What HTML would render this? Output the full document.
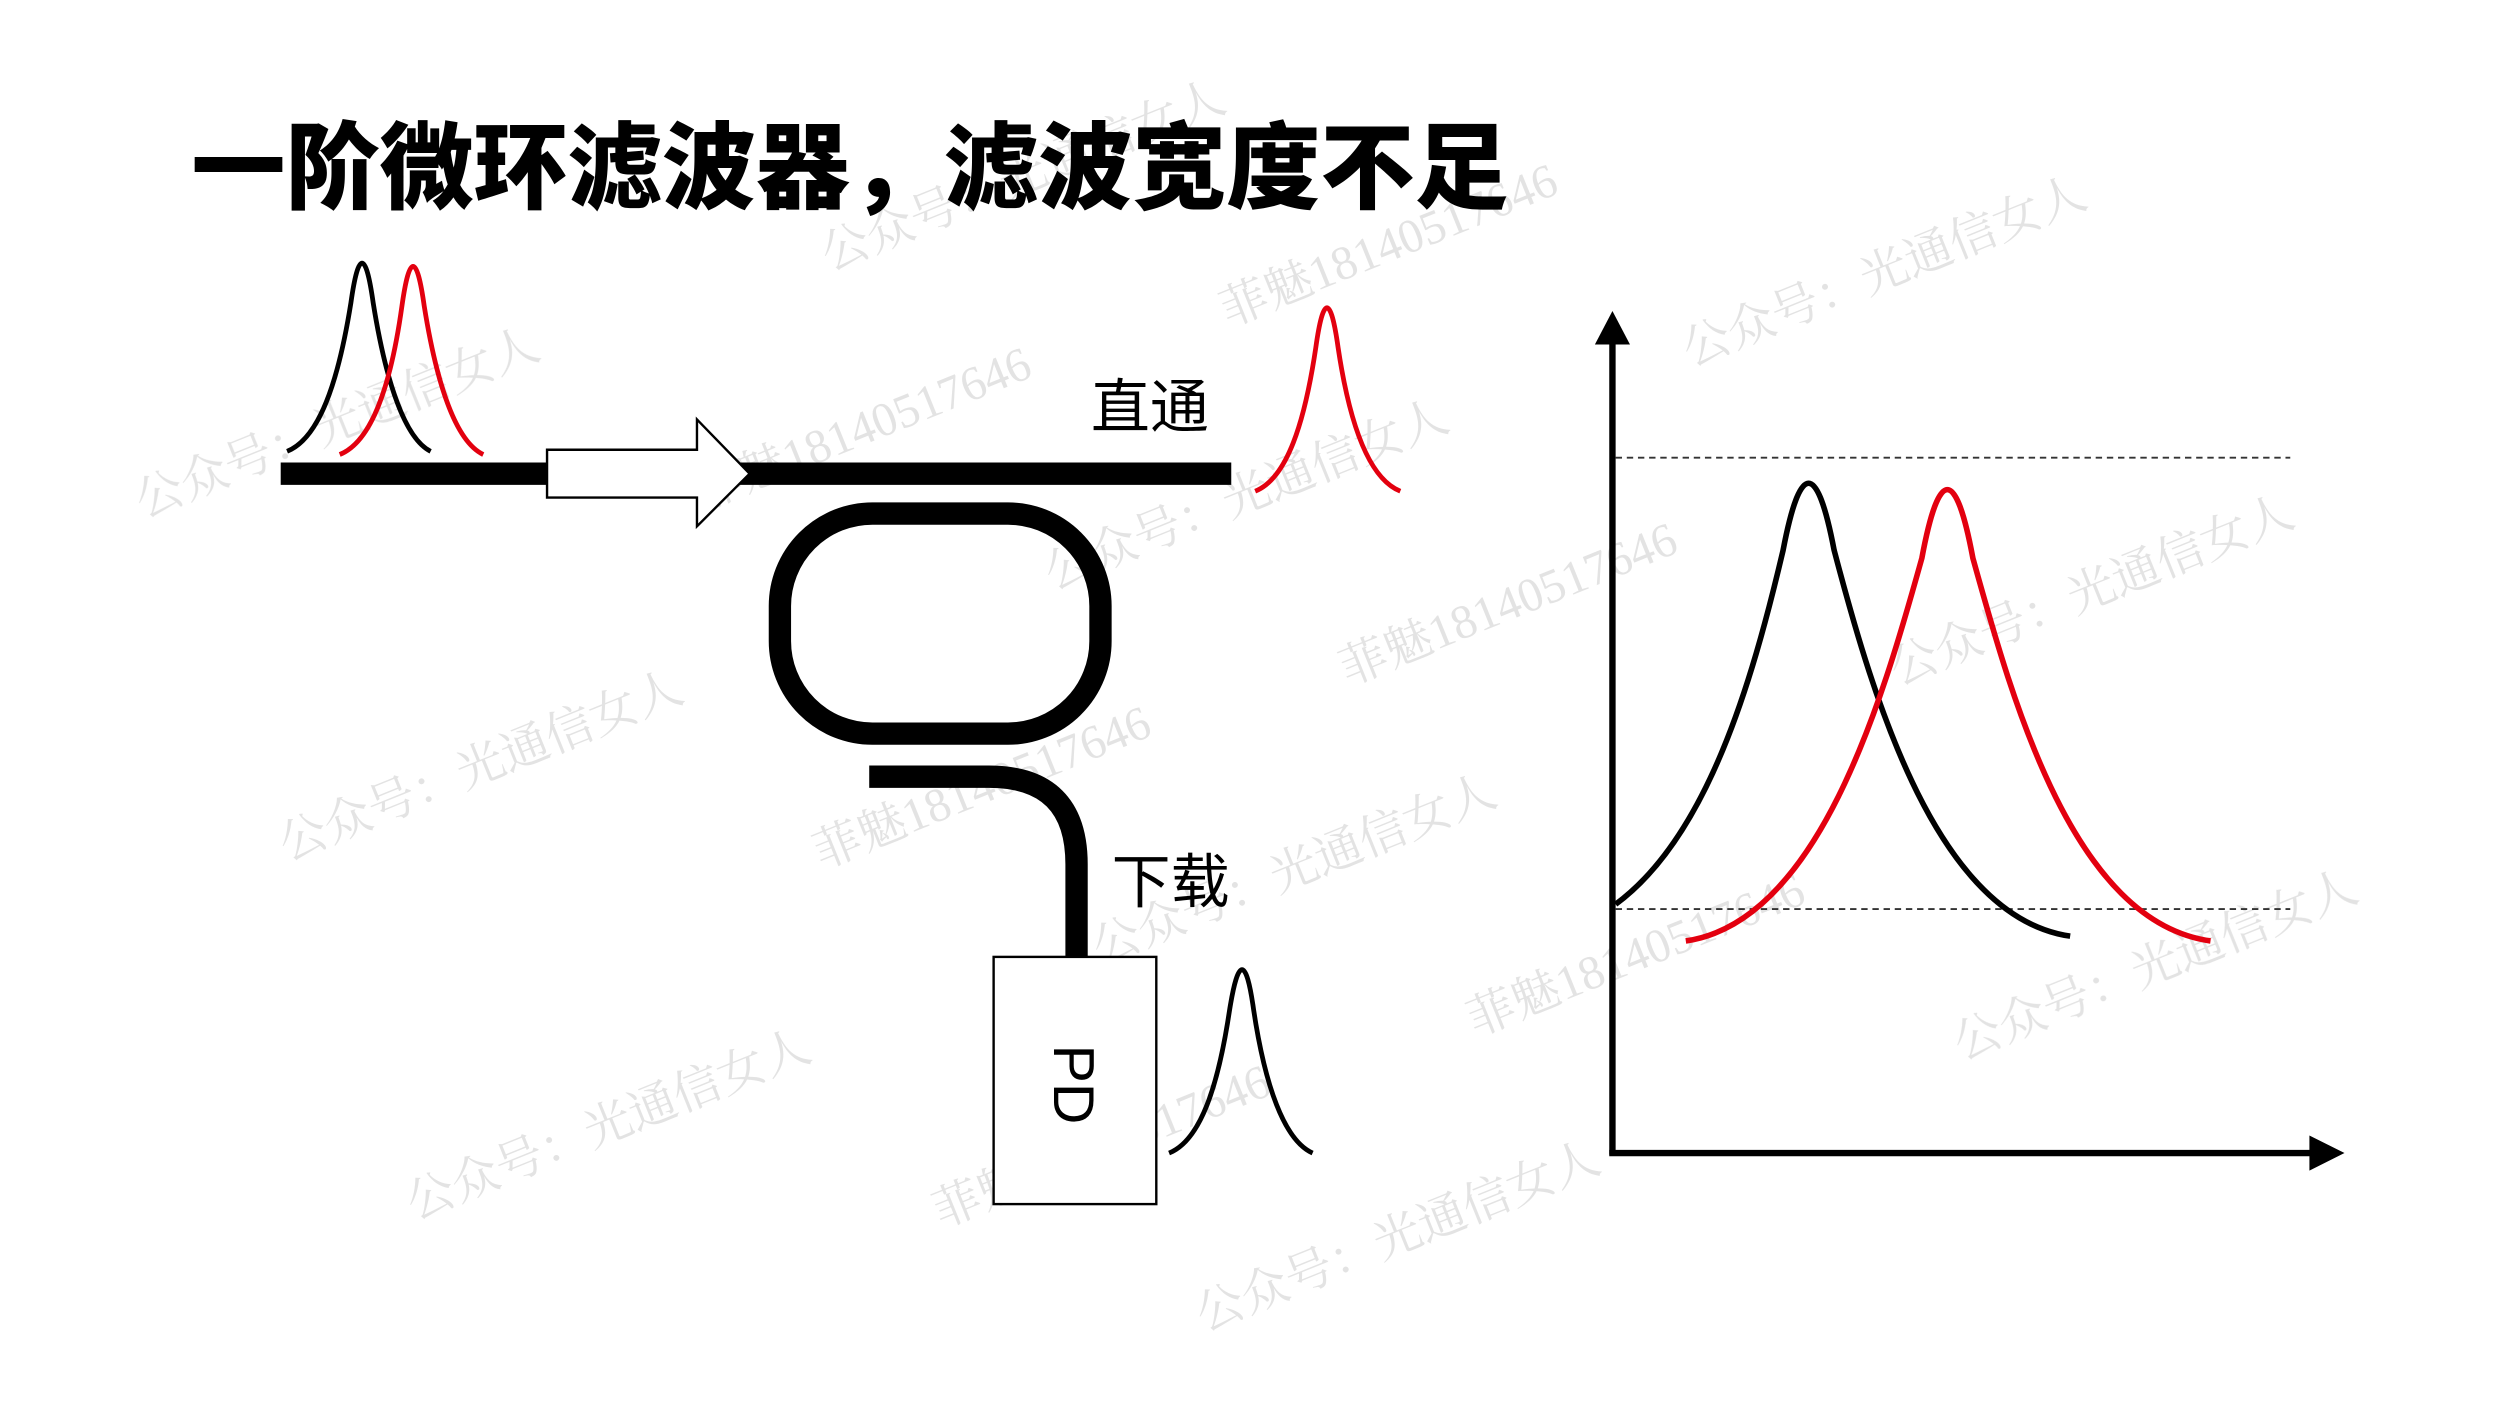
<!DOCTYPE html>
<html><head><meta charset="utf-8"><style>
html,body{margin:0;padding:0;background:#fff;}
svg{display:block;}
</style></head><body>
<svg width="2500" height="1406" viewBox="0 0 1567.5 881.6" preserveAspectRatio="none" xmlns="http://www.w3.org/2000/svg">
<rect width="1568" height="882" fill="#fff"/>
<g font-family="'Liberation Serif','Noto Serif CJK SC',serif" font-size="30" fill="#ddd" opacity="0.8">
<text transform="translate(90,325) rotate(-22)">公众号：光通信女人</text>
<text transform="translate(520,170) rotate(-22)">公众号：光通信女人</text>
<text transform="translate(770,205) rotate(-22)">菲魅18140517646</text>
<text transform="translate(1060,230) rotate(-22)">公众号：光通信女人</text>
<text transform="translate(440,320) rotate(-22)">菲魅18140517646</text>
<text transform="translate(660,370) rotate(-22)">公众号：光通信女人</text>
<text transform="translate(845,430) rotate(-22)">菲魅18140517646</text>
<text transform="translate(1190,430) rotate(-22)">公众号：光通信女人</text>
<text transform="translate(180,540) rotate(-22)">公众号：光通信女人</text>
<text transform="translate(515,545) rotate(-22)">菲魅18140517646</text>
<text transform="translate(690,605) rotate(-22)">公众号：光通信女人</text>
<text transform="translate(925,650) rotate(-22)">菲魅18140517646</text>
<text transform="translate(1230,665) rotate(-22)">公众号：光通信女人</text>
<text transform="translate(260,765) rotate(-22)">公众号：光通信女人</text>
<text transform="translate(590,770) rotate(-22)">菲魅18140517646</text>
<text transform="translate(755,835) rotate(-22)">公众号：光通信女人</text>
</g>
<text x="120" y="126" font-family="'Liberation Sans','Noto Sans CJK SC',sans-serif" font-weight="900" font-size="59" fill="#000">一阶微环滤波器，滤波宽度不足</text>
<path d="M180,283 C200,275 212,240 220,190 Q227,140 234,190 C242,240 254,275 270,283" fill="none" stroke="#000" stroke-width="3"/>
<path d="M213,285 C233,277 245,242 252,192 Q259,142 266,192 C274,242 286,277 303,285" fill="none" stroke="#e3000f" stroke-width="3"/>
<line x1="176" y1="297" x2="772" y2="297" stroke="#000" stroke-width="14"/>
<path d="M343,282 L437,282 L437,263 L470,297 L437,330 L437,312 L343,312 Z" fill="#fff" stroke="#000" stroke-width="1.5"/>
<text x="684" y="268" font-family="'Liberation Sans','Noto Sans CJK SC',sans-serif" font-size="37" fill="#000">直通</text>
<path d="M787,308 C807,300 818,265 825,218 Q832,168 839,218 C846,265 858,300 878,308" fill="none" stroke="#e3000f" stroke-width="3"/>
<rect x="489" y="322" width="201" height="138" rx="58" ry="58" fill="none" stroke="#000" stroke-width="14"/>
<path d="M545,487 L620,487 Q675,487 675,542 L675,601" fill="none" stroke="#000" stroke-width="14"/>
<text x="697" y="566" font-family="'Liberation Sans','Noto Sans CJK SC',sans-serif" font-size="37" fill="#000">下载</text>
<rect x="623" y="600" width="102" height="155" fill="#fff" stroke="#000" stroke-width="1.5"/>
<text transform="translate(661,680) rotate(90)" text-anchor="middle" font-family="'Liberation Sans',sans-serif" font-size="36" fill="#000">PD</text>
<path d="M733,723 C753,715 764,680 771,633 Q779,583 786,633 C793,680 805,715 823,723" fill="none" stroke="#000" stroke-width="3"/>
<line x1="1011" y1="212" x2="1011" y2="724" stroke="#000" stroke-width="4"/>
<path d="M1000,216 L1011,195 L1022,216 Z" fill="#000"/>
<line x1="1009" y1="723" x2="1452" y2="723" stroke="#000" stroke-width="4"/>
<path d="M1448,712 L1470,723 L1448,734 Z" fill="#000"/>
<line x1="1013" y1="287" x2="1436" y2="287" stroke="#333" stroke-width="1.2" stroke-dasharray="4,3"/>
<line x1="1013" y1="570" x2="1436" y2="570" stroke="#333" stroke-width="1.2" stroke-dasharray="4,3"/>
<path d="M1013,567 C1070,525 1098,430 1118,345 Q1134,261 1150,345 C1175,440 1215,575 1298,587" fill="none" stroke="#000" stroke-width="3.5"/>
<path d="M1057,590 C1140,578 1180,440 1205,350 Q1221,264 1237,350 C1262,440 1300,578 1386,590" fill="none" stroke="#e3000f" stroke-width="3.5"/>
</svg>
</body></html>
